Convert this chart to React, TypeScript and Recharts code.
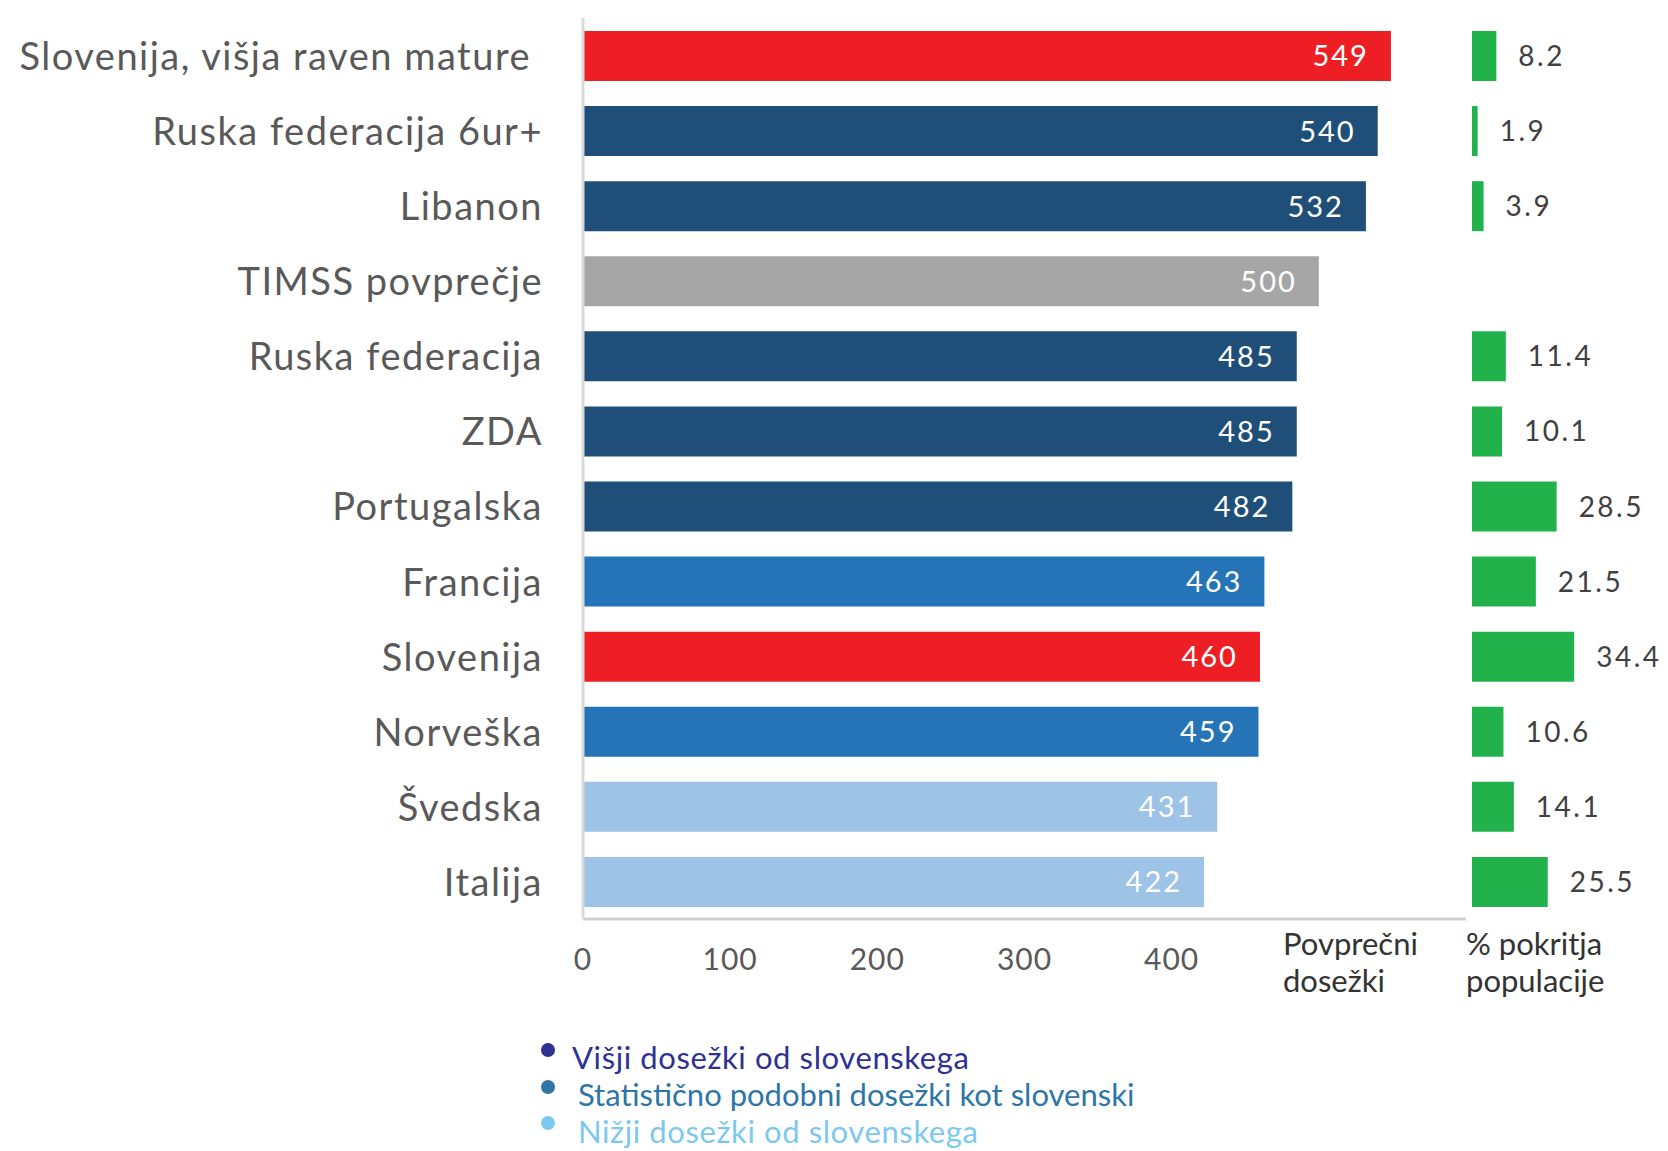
import { BarChart, Bar, XAxis, YAxis, Cell, LabelList } from 'recharts'

const categories = [
  'Slovenija, višja raven mature',
  'Ruska federacija 6ur+',
  'Libanon',
  'TIMSS povprečje',
  'Ruska federacija',
  'ZDA',
  'Portugalska',
  'Francija',
  'Slovenija',
  'Norveška',
  'Švedska',
  'Italija',
]
const scores = [549, 540, 532, 500, 485, 485, 482, 463, 460, 459, 431, 422]
const coverage: (number | null)[] = [8.2, 1.9, 3.9, null, 11.4, 10.1, 28.5, 21.5, 34.4, 10.6, 14.1, 25.5]
const groups = ['slo', 'higher', 'higher', 'avg', 'higher', 'higher', 'higher', 'similar', 'slo', 'similar', 'lower', 'lower']
const scoreTicks = [0, 100, 200, 300, 400]

const legendItems = [
  { label: 'Višji dosežki od slovenskega', dot: '#2E3192', text: '#2E3192' },
  { label: 'Statistično podobni dosežki kot slovenski', dot: '#2E75A8', text: '#2E75A8' },
  { label: 'Nižji dosežki od slovenskega', dot: '#7CC8F0', text: '#7CC8F0' },
]

const groupColors: Record<string, string> = {
  slo: '#ED1F24',
  higher: '#1F4E78',
  similar: '#2574B8',
  avg: '#A6A6A6',
  lower: '#9DC3E6',
}

const FONT = 'Lato, "Open Sans", sans-serif'

const data = categories.map((name, i) => ({
  name,
  score: scores[i],
  coverage: coverage[i],
  group: groups[i],
}))

function CategoryTick({ x, y, payload }: { x?: number; y?: number; payload?: { value: string } }) {
  // the first label sits a little left of the others in the original
  const shift = payload?.value === categories[0] ? -12 : 0
  return (
    <text
      x={(x ?? 0) + shift}
      y={y}
      dy="0.38em"
      textAnchor="end"
      fill="#595959"
      fontSize={38}
      fontFamily={FONT}
      letterSpacing={1.5}
    >
      {payload?.value}
    </text>
  )
}

function ScoreTick({ x, y, payload }: { x?: number; y?: number; payload?: { value: number } }) {
  return (
    <text x={x} y={(y ?? 0) + 49} textAnchor="middle" fill="#595959" fontSize={30} fontFamily={FONT} letterSpacing={1}>
      {payload?.value}
    </text>
  )
}

function ScoreLabel(props: any) {
  const { x, y, width, height, value } = props
  return (
    <text
      x={x + width - 22}
      y={y + height / 2}
      dy="0.36em"
      textAnchor="end"
      fill="#ffffff"
      fontSize={29}
      fontFamily={FONT}
      letterSpacing={2}
    >
      {value}
    </text>
  )
}

function CoverageLabel(props: any) {
  const { x, y, width, height, value } = props
  if (value == null) return null
  return (
    <text
      x={x + width + 22}
      y={y + height / 2}
      dy="0.36em"
      textAnchor="start"
      fill="#404040"
      fontSize={28}
      fontFamily={FONT}
      letterSpacing={2.5}
    >
      {value.toFixed(1)}
    </text>
  )
}

export default function App() {
  return (
    <div style={{ position: 'absolute', left: 0, top: 0, width: 1668, height: 1151, background: '#fff', fontFamily: FONT }}>
      <div style={{ position: 'absolute', left: 0, top: 0 }}>
        <BarChart
          width={1480}
          height={1000}
          layout="vertical"
          data={data}
          margin={{ top: 18, right: 14, left: 0, bottom: 0 }}
          barSize={50}
        >
          <XAxis
            type="number"
            dataKey="score"
            domain={[0, 600]}
            ticks={scoreTicks}
            height={81}
            axisLine={{ stroke: '#CFCFCF', strokeWidth: 3 }}
            tickLine={false}
            tickSize={0}
            tick={<ScoreTick />}
          />
          <YAxis
            type="category"
            dataKey="name"
            width={583}
            axisLine={{ stroke: '#D9D9D9', strokeWidth: 3 }}
            tickLine={false}
            tickSize={0}
            tickMargin={40}
            tick={<CategoryTick />}
            interval={0}
          />
          <Bar dataKey="score" isAnimationActive={false}>
            {data.map((d) => (
              <Cell key={d.name} fill={groupColors[d.group]} />
            ))}
            <LabelList dataKey="score" content={<ScoreLabel />} />
          </Bar>
        </BarChart>
      </div>

      <div style={{ position: 'absolute', left: 1472, top: 0 }}>
        <BarChart
          width={196}
          height={1000}
          layout="vertical"
          data={data}
          margin={{ top: 18, right: 0, left: 0, bottom: 81 }}
          barSize={50}
        >
          <XAxis type="number" dataKey="coverage" domain={[0, 66]} hide />
          <YAxis type="category" dataKey="name" hide />
          <Bar dataKey="coverage" fill="#21B24B" isAnimationActive={false}>
            <LabelList dataKey="coverage" content={<CoverageLabel />} />
          </Bar>
        </BarChart>
      </div>

      <div style={{ position: 'absolute', left: 1283, top: 925, fontSize: 31, lineHeight: '37px', color: '#333' }}>
        Povprečni
        <br />
        dosežki
      </div>
      <div style={{ position: 'absolute', left: 1466, top: 925, fontSize: 31, lineHeight: '37px', color: '#333' }}>
        % pokritja
        <br />
        populacije
      </div>

      {legendItems.map((item, i) => (
        <div key={item.label}>
          <div
            style={{
              position: 'absolute',
              left: 541,
              top: 1043 + i * 36.5,
              width: 14,
              height: 14,
              borderRadius: 7,
              background: item.dot,
            }}
          />
          <div
            style={{
              position: 'absolute',
              left: i === 0 ? 572 : 578,
              top: 1039 + i * 37,
              fontSize: 31,
              lineHeight: '37px',
              letterSpacing: i === 1 ? 0 : 0.6,
              color: item.text,
              whiteSpace: 'nowrap',
            }}
          >
            {item.label}
          </div>
        </div>
      ))}
    </div>
  )
}
